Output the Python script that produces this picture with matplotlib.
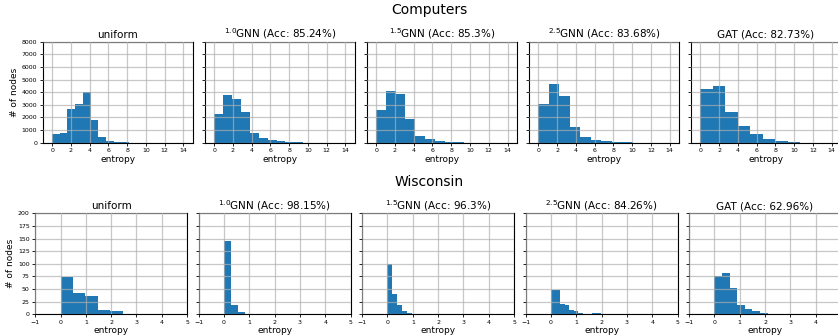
import numpy as np
import matplotlib.pyplot as plt

# titulos de cada panel
titulos_comp = ["uniform", r"$^{1.0}$GNN (Acc: 85.24%)", r"$^{1.5}$GNN (Acc: 85.3%)",
                r"$^{2.5}$GNN (Acc: 83.68%)", "GAT (Acc: 82.73%)"]
titulos_wisc = ["uniform", r"$^{1.0}$GNN (Acc: 98.15%)", r"$^{1.5}$GNN (Acc: 96.3%)",
                r"$^{2.5}$GNN (Acc: 84.26%)", "GAT (Acc: 62.96%)"]

# Computers: ancho de bin y conteos por histograma
comp_ancho = [0.82, 0.95, 1.04, 1.12, 1.33]
comp_uniform = [700, 780, 2650, 3100, 4050, 1800, 450, 120, 45, 20, 12, 8, 5, 4, 3, 2, 1]
comp_gnn10 = [2300, 3780, 3500, 2420, 780, 400, 230, 120, 50, 25, 15, 10, 6, 4, 2]
comp_gnn15 = [2600, 4080, 3850, 1900, 530, 290, 130, 50, 25, 12, 8, 5, 3, 2]
comp_gnn25 = [3060, 4650, 3700, 1240, 450, 210, 120, 45, 20, 10, 6, 3, 2]
comp_gat = [4220, 4480, 2430, 1320, 690, 290, 120, 40, 15, 8, 4]
comp_conteos = [comp_uniform, comp_gnn10, comp_gnn15, comp_gnn25, comp_gat]

# Wisconsin
wisc_ancho = [0.49, 0.27, 0.19, 0.18, 0.30]
wisc_uniform = [74, 42, 36, 9, 6]
wisc_gnn10 = [145, 19, 5]
wisc_gnn15 = [100, 40, 19, 7, 2]
wisc_gnn25 = [48, 49, 20, 18, 9, 6, 3, 1, 0, 3, 3]
wisc_gat = [75, 82, 52, 19, 11, 7, 3, 1]
wisc_conteos = [wisc_uniform, wisc_gnn10, wisc_gnn15, wisc_gnn25, wisc_gat]

fig = plt.figure(figsize=(8.38, 3.35), dpi=100)

def fila(gs, titulos, anchos, conteos, ylim, yticks, xlim, xticks):
    axs = []
    for i in range(5):
        ax = fig.add_subplot(gs[0, i], sharey=axs[0] if axs else None)
        c = np.array(conteos[i], dtype=float)
        bordes = np.arange(len(c)) * anchos[i]
        ax.bar(bordes, c, width=anchos[i], align="edge", color="#1f77b4", zorder=1)
        ax.grid(True, color="#b0b0b0", linewidth=0.9, alpha=0.7, zorder=2)
        ax.set_axisbelow(False)
        ax.set_xlim(*xlim)
        ax.set_xticks(xticks)
        ax.set_ylim(*ylim)
        ax.set_yticks(yticks)
        ax.tick_params(labelsize=4.5, length=2, width=0.6, pad=2)
        ax.set_title(titulos[i], fontsize=7.5, pad=3)
        ax.set_xlabel("entropy", fontsize=6.5, labelpad=1)
        if i == 0:
            ax.set_ylabel("# of nodes", fontsize=6.5, labelpad=2)
        else:
            ax.tick_params(labelleft=False)
        axs.append(ax)
    return axs

gs1 = fig.add_gridspec(1, 5, left=0.051, right=1.0036, top=0.8755, bottom=0.574, wspace=0.08)
gs2 = fig.add_gridspec(1, 5, left=0.042, right=1.0036, top=0.3633, bottom=0.0618, wspace=0.076)

fila(gs1, titulos_comp, comp_ancho, comp_conteos, (0, 8000), range(0, 8001, 1000), (-1, 15), range(0, 15, 2))
fila(gs2, titulos_wisc, wisc_ancho, wisc_conteos, (0, 200), range(0, 201, 25), (-1, 5), range(-1, 6))

fig.text(0.512, 0.97, "Computers", ha="center", va="center", fontsize=10)
fig.text(0.512, 0.457, "Wisconsin", ha="center", va="center", fontsize=10)

fig.savefig("out.png", dpi=100)
